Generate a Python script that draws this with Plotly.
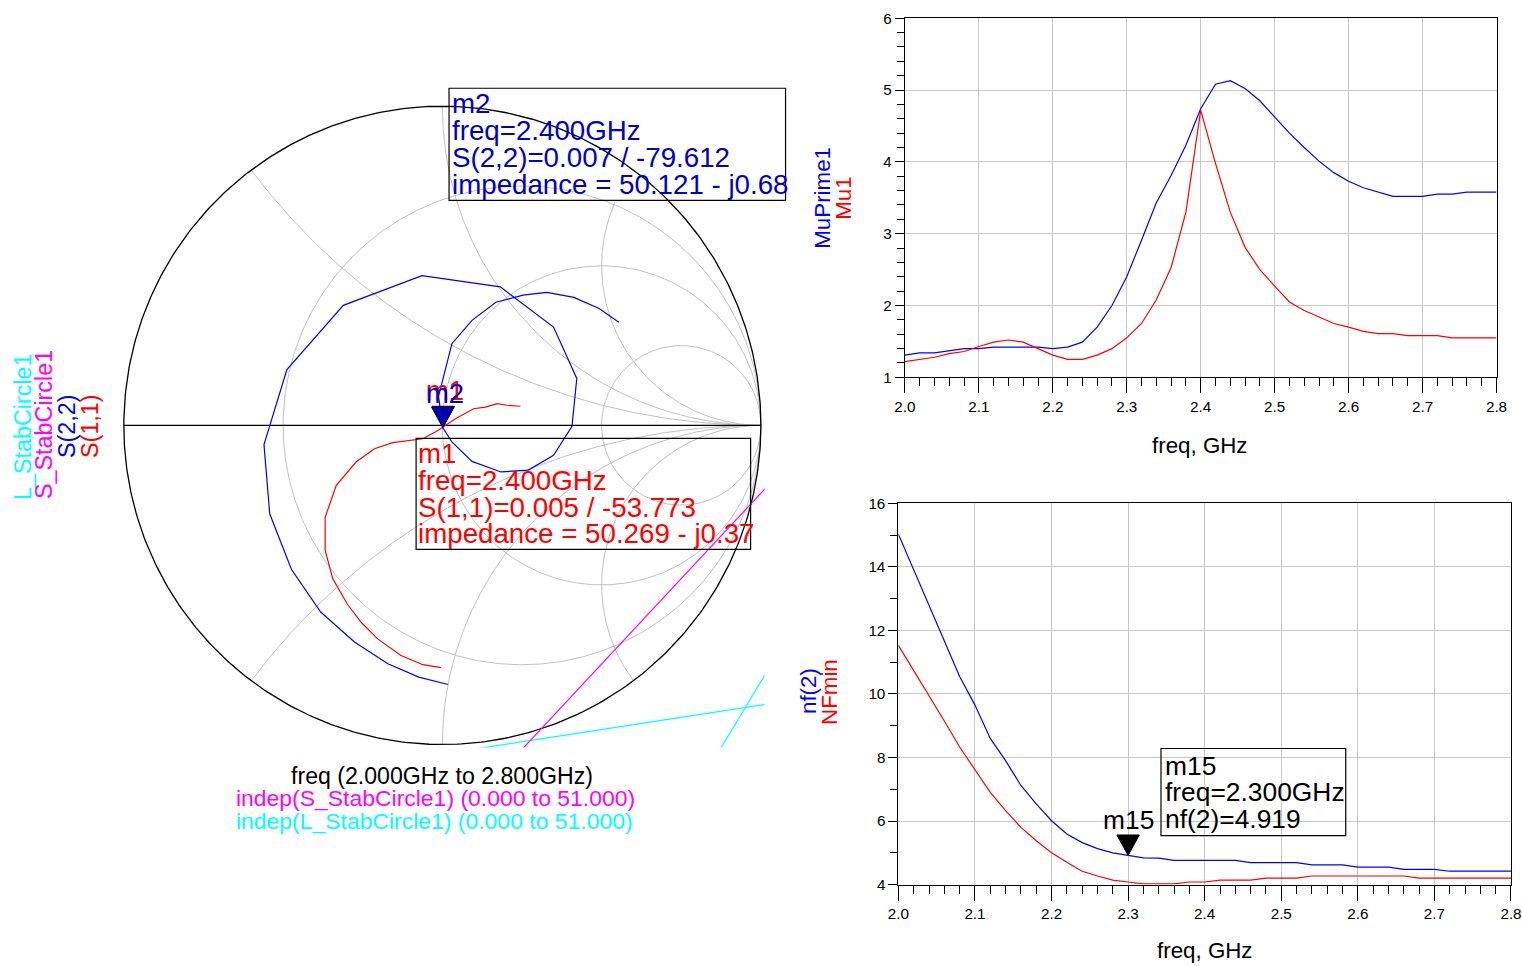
import numpy as np
import plotly.graph_objects as go

W, H = 1522, 966
FONT = "Liberation Sans, Arial, sans-serif"
# measured placement of the rendered figure inside the photographed page
OFF_X, OFF_Y, SC_X, SC_Y = 9.3, 8.8, 0.987, 0.982
SC_F = 0.985

# ---------------- data ----------------
freq_ghz = [2.00, 2.02, 2.04, 2.06, 2.08, 2.10, 2.12, 2.14, 2.16, 2.18,
            2.20, 2.22, 2.24, 2.26, 2.28, 2.30, 2.32, 2.34, 2.36, 2.38,
            2.40, 2.42, 2.44, 2.46, 2.48, 2.50, 2.52, 2.54, 2.56, 2.58,
            2.60, 2.62, 2.64, 2.66, 2.68, 2.70, 2.72, 2.74, 2.76, 2.78, 2.80]

mu_prime1 = [1.31, 1.34, 1.34, 1.37, 1.40, 1.40, 1.42, 1.42, 1.42, 1.42,
             1.40, 1.42, 1.49, 1.70, 2.00, 2.40, 2.91, 3.43, 3.81, 4.23,
             4.74, 5.08, 5.13, 5.02, 4.85, 4.63, 4.40, 4.20, 4.01, 3.85,
             3.73, 3.64, 3.58, 3.52, 3.52, 3.52, 3.55, 3.55, 3.58, 3.58, 3.58]
mu1 = [1.22, 1.25, 1.28, 1.33, 1.36, 1.43, 1.49, 1.52, 1.49, 1.40,
       1.31, 1.25, 1.25, 1.31, 1.40, 1.55, 1.75, 2.08, 2.53, 3.30,
       4.72, 3.98, 3.30, 2.81, 2.50, 2.27, 2.05, 1.93, 1.84, 1.75,
       1.70, 1.64, 1.61, 1.61, 1.58, 1.58, 1.58, 1.55, 1.55, 1.55, 1.55]

nf2 = [15.03, 13.90, 12.80, 11.66, 10.55, 9.65, 8.60, 7.90, 7.12, 6.54,
       6.01, 5.59, 5.32, 5.13, 5.00, 4.919, 4.84, 4.83, 4.76, 4.76,
       4.76, 4.76, 4.76, 4.69, 4.69, 4.69, 4.69, 4.62, 4.62, 4.62,
       4.55, 4.55, 4.55, 4.48, 4.48, 4.48, 4.42, 4.42, 4.42, 4.42, 4.42]
nfmin = [11.53, 10.75, 9.95, 9.15, 8.33, 7.60, 6.90, 6.33, 5.80, 5.38,
         5.00, 4.70, 4.42, 4.27, 4.14, 4.08, 4.02, 4.02, 4.02, 4.08,
         4.08, 4.14, 4.14, 4.14, 4.20, 4.20, 4.20, 4.27, 4.27, 4.27,
         4.27, 4.27, 4.27, 4.27, 4.20, 4.20, 4.20, 4.20, 4.20, 4.20, 4.20]

s22_re = [0.018, -0.074, -0.171, -0.276, -0.382, -0.474, -0.542, -0.560, -0.488,
          -0.311, -0.064, 0.182, 0.349, 0.422, 0.407, 0.349, 0.270, 0.184,
          0.093, 0.030, 0.001, -0.012, 0.030, 0.093, 0.168, 0.253, 0.328,
          0.413, 0.492, 0.554]
s22_im = [-0.812, -0.789, -0.747, -0.679, -0.585, -0.451, -0.277, -0.060, 0.175,
          0.376, 0.469, 0.434, 0.308, 0.147, -0.003, -0.094, -0.140, -0.146,
          -0.113, -0.052, -0.007, 0.091, 0.256, 0.329, 0.386, 0.408, 0.417,
          0.401, 0.366, 0.323]
s11_re = [-0.004, -0.061, -0.130, -0.203, -0.255, -0.299, -0.344, -0.368, -0.368,
          -0.333, -0.271, -0.213, -0.156, -0.061, -0.014, 0.003, 0.041, 0.098,
          0.135, 0.172, 0.203, 0.245]
s11_im = [-0.759, -0.750, -0.721, -0.669, -0.617, -0.559, -0.481, -0.392, -0.288,
          -0.188, -0.115, -0.073, -0.054, -0.042, -0.016, -0.004, 0.021, 0.052,
          0.057, 0.068, 0.063, 0.060]

s_stab_re = [1.05, 0.227]
s_stab_im = [-0.159, -1.04]
l_stab_re = [0.10, 1.05, None, 0.857, 1.05]
l_stab_im = [-1.0143, -0.8692, None, -1.04, -0.72]

# marker readouts (m1 on S(1,1), m2 on S(2,2), m15 on nf(2))
m1_mag, m1_ang, m1_zr, m1_zi = 0.005, -53.773, 50.269, -0.37
m2_mag, m2_ang, m2_zr, m2_zi = 0.007, -79.612, 50.121, -0.68
m_freq = 2.400
m15_freq = 2.30

smith_r = [1 / 3, 1.0, 3.0]
smith_x = [0.5, 1.0, 2.0, -0.5, -1.0, -2.0]

BLUE = "#0000ff"
RED = "#ff0000"
MAG = "#ff00ff"
CYAN = "#00ffff"
TXT_BLUE = "#0000c8"

def px(x):
    return ((x - OFF_X) / SC_X) / W

def py(y):
    return 1 - ((y - OFF_Y) / SC_Y) / H

def fs(s):
    return s / SC_F

# ---------------- Smith chart geometry (target picture pixels) ----------------
CX, CY, RP = 441.3, 425.0, 319.0
SL, SR, ST, SB = 112, 764, 100, 747
sx_range = [(SL - CX) / RP, (SR - CX) / RP]
sy_range = [(CY - SB) / RP, (CY - ST) / RP]

gx, gy = [], []
t = np.linspace(0, 2 * np.pi, 500)
for r in smith_r:
    c, rad = r / (1 + r), 1 / (1 + r)
    gx += list(c + rad * np.cos(t)) + [None]
    gy += list(rad * np.sin(t)) + [None]
for xv in smith_x:
    rmin = 0.3 if xv == 2.0 else 0.0
    rr = np.concatenate([np.linspace(rmin, 1, 200), np.geomspace(1, 1e5, 400)])
    z = rr + 1j * xv
    g = (z - 1) / (z + 1)
    gx += list(g.real) + [None]
    gy += list(g.imag) + [None]

fig = go.Figure()
fig.add_trace(go.Scatter(x=gx, y=gy, mode="lines", line=dict(color="#c0c0c0", width=1),
                         hoverinfo="skip", showlegend=False, xaxis="x", yaxis="y"))
fig.add_trace(go.Scatter(x=list(np.cos(t)), y=list(np.sin(t)), mode="lines",
                         line=dict(color="black", width=1.3), hoverinfo="skip",
                         showlegend=False, xaxis="x", yaxis="y"))
fig.add_trace(go.Scatter(x=[-1, 1], y=[0, 0], mode="lines", line=dict(color="black", width=1.1),
                         hoverinfo="skip", showlegend=False, xaxis="x", yaxis="y"))
fig.add_trace(go.Scatter(x=l_stab_re, y=l_stab_im, mode="lines", line=dict(color=CYAN, width=1.2),
                         name="L_StabCircle1", showlegend=False, xaxis="x", yaxis="y"))
fig.add_trace(go.Scatter(x=s_stab_re, y=s_stab_im, mode="lines", line=dict(color=MAG, width=1.2),
                         name="S_StabCircle1", showlegend=False, xaxis="x", yaxis="y"))
fig.add_trace(go.Scatter(x=s22_re, y=s22_im, mode="lines", line=dict(color=BLUE, width=1.2),
                         name="S(2,2)", showlegend=False, xaxis="x", yaxis="y"))
fig.add_trace(go.Scatter(x=s11_re, y=s11_im, mode="lines", line=dict(color=RED, width=1.2),
                         name="S(1,1)", showlegend=False, xaxis="x", yaxis="y"))

# ---------------- right plots ----------------
fig.add_trace(go.Scatter(x=freq_ghz, y=mu_prime1, mode="lines", line=dict(color=BLUE, width=1.2),
                         name="MuPrime1", showlegend=False, xaxis="x2", yaxis="y2"))
fig.add_trace(go.Scatter(x=freq_ghz, y=mu1, mode="lines", line=dict(color=RED, width=1.2),
                         name="Mu1", showlegend=False, xaxis="x2", yaxis="y2"))
fig.add_trace(go.Scatter(x=freq_ghz, y=nf2, mode="lines", line=dict(color=BLUE, width=1.2),
                         name="nf(2)", showlegend=False, xaxis="x3", yaxis="y3"))
fig.add_trace(go.Scatter(x=freq_ghz, y=nfmin, mode="lines", line=dict(color=RED, width=1.2),
                         name="NFmin", showlegend=False, xaxis="x3", yaxis="y3"))

tickfont = dict(family=FONT, size=fs(15), color="black")

def xstyle(dom):
    return dict(domain=dom, range=[2.0, 2.8], tick0=2.0, dtick=0.1, tickformat=".1f",
                showline=True, linecolor="black", linewidth=1, mirror=True,
                showgrid=True, gridcolor="#c8c8c8", gridwidth=1.3, zeroline=False,
                ticks="outside", ticklen=15, tickcolor="black", tickwidth=1,
                tickfont=tickfont, fixedrange=True,
                minor=dict(dtick=0.02, ticks="outside", ticklen=8, tickcolor="black",
                           showgrid=False))

def ystyle(dom, rng, dt, mdt):
    return dict(domain=dom, range=rng, tick0=rng[0], dtick=dt,
                showline=True, linecolor="black", linewidth=1, mirror=True,
                showgrid=True, gridcolor="#c8c8c8", gridwidth=1.3, zeroline=False,
                ticks="outside", ticklen=9, tickcolor="black", tickwidth=1,
                tickfont=tickfont, fixedrange=True,
                minor=dict(dtick=mdt, ticks="outside", ticklen=7, tickcolor="black",
                           showgrid=False))

hidden = dict(visible=False, showgrid=False, zeroline=False, fixedrange=True)

def clip(d):
    return [max(0.0, d[0]), min(1.0, d[1])]

fig.update_layout(
    width=W, height=H,
    margin=dict(l=0, r=0, t=0, b=0),
    paper_bgcolor="white", plot_bgcolor="rgba(0,0,0,0)",
    font=dict(family=FONT),
    xaxis=dict(domain=clip([px(SL), px(SR)]), range=sx_range, **hidden),
    yaxis=dict(domain=clip([py(SB), py(ST)]), range=sy_range, **hidden),
    xaxis2=dict(anchor="y2", **xstyle(clip([px(904.5), px(1497)]))),
    yaxis2=dict(anchor="x2", **ystyle(clip([py(377), py(18)]), [1, 6], 1, 0.2)),
    xaxis3=dict(anchor="y3", **xstyle(clip([px(898), px(1511.5)]))),
    yaxis3=dict(anchor="x3", **ystyle(clip([py(884), py(503)]), [4, 16], 2, 1)),
)

ann = []

def text(x, y, s, color="black", size=23, angle=0, xanchor="center"):
    ann.append(dict(x=px(x), y=py(y), xref="paper", yref="paper", text=s, showarrow=False,
                    font=dict(family=FONT, size=fs(size), color=color), textangle=angle,
                    xanchor=xanchor, yanchor="middle"))

# left legend (rotated)
text(22, 426, "L_StabCircle1", CYAN, 23, -90)
text(43, 424, "S_StabCircle1", MAG, 23, -90)
text(66, 426, "S(2,2)", BLUE, 23, -90)
text(89, 426, "S(1,1)", RED, 23, -90)

# bottom sweep descriptions
text(441, 775, "freq (2.000GHz to 2.800GHz)", "black", 22.8)
text(233, 797, "indep(S_StabCircle1) (0.000 to 51.000)", MAG, 22.6, xanchor="left")
text(233, 820, "indep(L_StabCircle1) (0.000 to 51.000)", CYAN, 22.6, xanchor="left")

# right plots axis labels
text(822, 198, "MuPrime1", BLUE, 22, -90)
text(843, 198, "Mu1", RED, 22, -90)
text(1200, 445, "freq, GHz", "black", 22)
text(808, 691, "nf(2)", BLUE, 22, -90)
text(829, 691, "NFmin", RED, 22, -90)
text(1205, 950, "freq, GHz", "black", 22)

# marker readouts
def polar(mag, ang):
    a = np.deg2rad(ang)
    return mag * np.cos(a), mag * np.sin(a)

m1x, m1y = polar(m1_mag, m1_ang)
m2x, m2y = polar(m2_mag, m2_ang)

def zstr(zr, zi):
    return f"impedance = {zr:.3f} {'-' if zi < 0 else '+'} j{abs(zi):.2f}"

m2_lines = ["m2", f"freq={m_freq:.3f}GHz", f"S(2,2)={m2_mag:.3f} / {m2_ang:.3f}", zstr(m2_zr, m2_zi)]
m1_lines = ["m1", f"freq={m_freq:.3f}GHz", f"S(1,1)={m1_mag:.3f} / {m1_ang:.3f}", zstr(m1_zr, m1_zi)]
i15 = freq_ghz.index(m15_freq)
m15_lines = ["m15", f"freq={m15_freq:.3f}GHz", f"nf(2)={nf2[i15]:.3f}"]

for k, s in enumerate(m2_lines):
    text(449, 103 + 27 * k, s, TXT_BLUE, 27.3, xanchor="left")
for k, s in enumerate(m1_lines):
    text(415, 453 + 26.8 * k, s, RED, 27.3, xanchor="left")
for k, s in enumerate(m15_lines):
    text(1163, 765 + 26.5 * k, s, "black", 26, xanchor="left")

# marker names above triangles
ann.append(dict(x=m1x, y=m1y, xref="x", yref="y", text="m1", showarrow=False,
                font=dict(family=FONT, size=fs(27), color=RED), xanchor="center", yanchor="bottom",
                yshift=19, xshift=2))
ann.append(dict(x=m2x, y=m2y, xref="x", yref="y", text="m2", showarrow=False,
                font=dict(family=FONT, size=fs(27), color=TXT_BLUE), xanchor="center", yanchor="bottom",
                yshift=17, xshift=2))
ann.append(dict(x=m15_freq, y=nf2[i15], xref="x3", yref="y3", text="m15", showarrow=False,
                font=dict(family=FONT, size=fs(26), color="black"), xanchor="center", yanchor="bottom",
                yshift=18, xshift=0))

shapes = []
# readout boxes
for (x0, y0, x1, y1) in [(448, 88, 785, 200), (415, 438, 750, 549), (1161, 748, 1346, 835)]:
    shapes.append(dict(type="rect", xref="paper", yref="paper", x0=px(x0), x1=px(x1),
                       y0=py(y1), y1=py(y0), line=dict(color="black", width=1.2),
                       fillcolor="rgba(0,0,0,0)"))

tri = "M -11.2,20.4 L 11.2,20.4 L 0,0 Z"
for (ax, ay, xr, yr, fill) in [(m1x, m1y, "x", "y", RED), (m2x, m2y, "x", "y", "#0000b4"),
                               (m15_freq, nf2[i15], "x3", "y3", "black")]:
    shapes.append(dict(type="path", xref=xr, yref=yr, xsizemode="pixel", ysizemode="pixel",
                       xanchor=ax, yanchor=ay, path=tri, fillcolor=fill,
                       line=dict(color="#000040" if fill != "black" else "black", width=1)))

fig.update_layout(annotations=ann, shapes=shapes)
fig.write_html("out.html", config={"displayModeBar": False})
